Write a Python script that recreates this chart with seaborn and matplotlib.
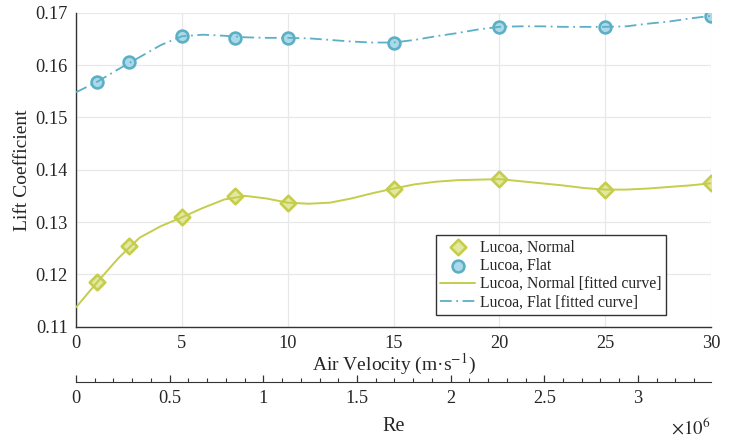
import matplotlib
matplotlib.use("Agg")
import matplotlib.pyplot as plt
import seaborn as sns
from matplotlib.ticker import MultipleLocator, FixedLocator, FuncFormatter

# ---- data ----
velocity = [1, 2.5, 5, 7.5, 10, 15, 20, 25, 30]
cl_normal = [0.1185, 0.1254, 0.1309, 0.1349, 0.1337, 0.1364, 0.1382, 0.1362, 0.1374]
cl_flat = [0.1568, 0.1605, 0.1655, 0.1652, 0.1652, 0.1643, 0.1673, 0.1673, 0.1694]

fit_velocity = [0, 1, 2, 3, 4, 5, 6, 7, 8, 9, 10, 11, 12, 13, 14, 15,
                16, 17, 18, 19, 20, 21, 22, 23, 24, 25, 26, 27, 28, 29, 30]
fit_normal = [0.1137, 0.1185, 0.1231, 0.1270, 0.1292, 0.1309, 0.1327, 0.1343, 0.1350,
              0.1345, 0.1337, 0.1335, 0.1337, 0.1345, 0.1355, 0.1364, 0.1372, 0.1377,
              0.1380, 0.1381, 0.1382, 0.1378, 0.1374, 0.1370, 0.1365, 0.1362, 0.1362,
              0.1364, 0.1367, 0.1370, 0.1374]
fit_flat = [0.1548, 0.1568, 0.1592, 0.1615, 0.1638, 0.1655, 0.1658, 0.1656, 0.1653,
            0.1652, 0.1652, 0.1651, 0.1648, 0.1645, 0.1643, 0.1643, 0.1648, 0.1655,
            0.1661, 0.1668, 0.1673, 0.1674, 0.1674, 0.1673, 0.1673, 0.1673, 0.1674,
            0.1679, 0.1683, 0.1689, 0.1694]

labels = ["Lucoa, Normal", "Lucoa, Flat",
          "Lucoa, Normal [fitted curve]", "Lucoa, Flat [fitted curve]"]
re_ticks = [0, 0.5, 1, 1.5, 2, 2.5, 3]
re_per_velocity = 0.113   # Re (x10^6) per m/s, from the secondary axis

# ---- styling ----
sns.set_style("white")
plt.rcParams["font.family"] = ["Liberation Serif", "DejaVu Serif"]
plt.rcParams["mathtext.fontset"] = "stix"

txt = "#262626"
normal_edge = "#c4cd4c"
normal_face = "#e3e89f"
flat_edge = "#5bb0c6"
flat_face = "#acd9e7"

fig = plt.figure(figsize=(7.33, 4.40), dpi=100)
ax = fig.add_axes([0.1037, 0.2575, 0.8663, 0.7136])

sns.scatterplot(x=velocity, y=cl_normal, marker="D", s=62, color=normal_face,
                edgecolor=normal_edge, linewidth=1.9, label=labels[0], ax=ax, zorder=3)
sns.scatterplot(x=velocity, y=cl_flat, marker="o", s=72, color=flat_face,
                edgecolor=flat_edge, linewidth=1.9, label=labels[1], ax=ax, zorder=3)
sns.lineplot(x=fit_velocity, y=fit_normal, color=normal_edge, lw=1.4,
             label=labels[2], ax=ax, zorder=4)
sns.lineplot(x=fit_velocity, y=fit_flat, color=flat_edge, lw=1.3,
             linestyle=(0, (6.5, 2.5, 1, 2.5)), label=labels[3], ax=ax, zorder=4)

ax.set_xlim(0, 30)
ax.set_ylim(0.11, 0.17)
ax.xaxis.set_major_locator(MultipleLocator(5))
ax.xaxis.set_minor_locator(MultipleLocator(1))
ax.yaxis.set_major_locator(MultipleLocator(0.01))
ax.yaxis.set_minor_locator(MultipleLocator(0.0025))
ax.yaxis.set_major_formatter(FuncFormatter(lambda v, p: f"{v:.2f}"))

ax.grid(True, which="major", color="#e8e8e8", lw=0.9)
ax.set_axisbelow(True)
for s in ["top", "right"]:
    ax.spines[s].set_visible(False)
for s in ["left", "bottom"]:
    ax.spines[s].set_color("#333333")
    ax.spines[s].set_linewidth(1.0)

ax.tick_params(which="both", direction="in", colors="#333333", labelcolor=txt,
               labelsize=13.2, pad=6)
ax.tick_params(which="major", length=5, width=0.9)
ax.tick_params(which="minor", length=3.2, width=0.8)

ax.set_xlabel("Air Velocity (m·s$^{-1}$)", fontsize=14, color=txt, labelpad=0)
ax.set_ylabel("Lift Coefficient", fontsize=14, color=txt, labelpad=3)

# secondary Reynolds-number axis
sec = ax.secondary_xaxis(-0.176, functions=(lambda v: v * re_per_velocity,
                                            lambda r: r / re_per_velocity))
sec.xaxis.set_major_locator(FixedLocator(re_ticks))
sec.xaxis.set_minor_locator(FixedLocator([i / 10 for i in range(0, 34)]))
sec.xaxis.set_major_formatter(FuncFormatter(lambda v, p: f"{v:g}"))
sec.spines["bottom"].set_color("#333333")
sec.tick_params(which="both", direction="in", colors="#333333", labelcolor=txt,
                labelsize=13.2, pad=6)
sec.tick_params(which="major", length=5, width=0.9)
sec.tick_params(which="minor", length=3.2, width=0.8)
sec.set_xlabel("Re", fontsize=14.5, color=txt, labelpad=7)
fig.text(710 / 733, 1 - 428 / 440, "$\\times10^{6}$", ha="right", va="center",
         fontsize=13.5, color=txt)

handles, labs = ax.get_legend_handles_labels()
leg = ax.legend(handles, labs, loc="lower left", bbox_to_anchor=(0.5665, 0.037),
                borderaxespad=0, fontsize=11.3, frameon=True, fancybox=False,
                edgecolor="#333333", framealpha=1, handlelength=2.2,
                labelspacing=0.15, borderpad=0.3, handletextpad=0.3)
leg.get_frame().set_linewidth(1.0)
for t in leg.get_texts():
    t.set_color(txt)

fig.savefig("out.png", dpi=100)
